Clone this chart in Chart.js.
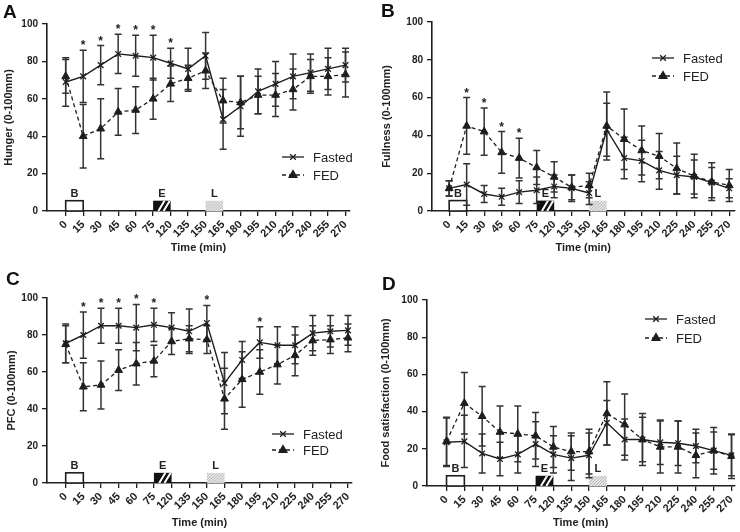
<!DOCTYPE html>
<html>
<head>
<meta charset="utf-8">
<script src="https://cdn.jsdelivr.net/npm/chart.js@4.4.1/dist/chart.umd.min.js"></script>
<style>
  html, body { margin: 0; padding: 0; background: #fff; }
  #wrap { position: relative; width: 740px; height: 532px; overflow: hidden; }
  .panel { position: absolute; width: 370px; height: 266px; }
  .panel canvas { display: block; }
  .letter { position: absolute; font: bold 19px 'Liberation Sans', Arial, sans-serif; color: #111; line-height: 1; }
</style>
</head>
<body>
<div id="wrap">
  <div class="panel" style="left:0;top:0"><canvas id="chartA" width="370" height="266"></canvas></div>
  <div class="panel" style="left:370px;top:0"><canvas id="chartB" width="370" height="266"></canvas></div>
  <div class="panel" style="left:0;top:266px"><canvas id="chartC" width="370" height="266"></canvas></div>
  <div class="panel" style="left:370px;top:266px"><canvas id="chartD" width="370" height="266"></canvas></div>
  <div class="letter" style="left:3px;top:2px">A</div>
  <div class="letter" style="left:381px;top:1px">B</div>
  <div class="letter" style="left:6px;top:269px">C</div>
  <div class="letter" style="left:382px;top:274px">D</div>
</div>
<script>
const timeLabels = ['0', '15', '30', '45', '60', '75', '120', '135', '150', '165', '180', '195', '210', '225', '240', '255', '270'];

const hungerFasted = [69, 72, 78, 84, 83, 82, 79, 76, 83, 49, 56, 64, 68, 72, 74, 76, 78];
const hungerFastedErr = [13, 14, 10.5, 10.5, 11, 12, 8, 11, 12.5, 16, 16, 12, 12, 12, 10, 11, 9];
const hungerFed = [72, 40, 44, 53, 54, 60, 68, 71, 75, 59, 58, 62, 62, 65, 72, 72, 73];
const hungerFedErr = [9, 17, 16, 12.5, 12.5, 11, 9.5, 7, 9.5, 12, 14, 10, 11.5, 11, 9, 10, 12];
const hungerStars = [1, 2, 3, 4, 5, 6];

const fullnessFasted = [12, 14, 9, 7.5, 10, 11, 13, 12, 9.5, 43, 28, 26.5, 21.5, 19, 18, 15, 12];
const fullnessFastedErr = [4, 11, 4.5, 4.5, 6, 7, 6, 7, 6, 14, 11, 11, 10, 10, 9, 8, 5];
const fullnessFed = [12, 45, 42, 31, 28, 23, 18, 12.5, 13.5, 45, 38, 32, 29, 22.5, 18.5, 15.5, 13.5];
const fullnessFedErr = [4, 15, 12.5, 11, 10.5, 9, 8, 6.5, 6.5, 18, 16, 13, 12, 13.5, 11.5, 10, 8.5];
const fullnessStars = [1, 2, 3, 4];

const pfcFasted = [75.5, 80, 85, 85, 84, 85.5, 84, 82, 86.5, 54, 66.5, 76, 74.5, 74.5, 81, 82, 82.5];
const pfcFastedErr = [10.5, 12.5, 9.5, 9.5, 12.5, 9, 8, 12, 9.5, 16.5, 10, 8.5, 10, 10, 9.5, 8.5, 8];
const pfcFed = [75, 52, 53, 61, 64.5, 66, 76.5, 78, 77.5, 45.5, 56, 60, 64, 69, 77, 77.5, 78.5];
const pfcFedErr = [10, 13, 13, 11, 11.5, 8.5, 7, 7, 7.5, 16.5, 15, 12, 10.5, 11, 8, 7.5, 7.5];
const pfcStars = [1, 2, 3, 4, 5, 8, 11];

const satFasted = [23.5, 24, 17.5, 14.5, 17, 22.5, 17, 15, 16.5, 34, 25, 25, 23.5, 23, 21.5, 19, 16.5];
const satFastedErr = [13, 14, 10.5, 9, 10, 12, 10, 12, 12, 12, 11, 12, 12, 12, 9, 10, 11];
const satFed = [24, 44.5, 37.5, 29, 28, 27, 21, 18.5, 18.5, 39, 33, 25, 21, 21, 16.5, 19, 16];
const satFedErr = [13, 16.5, 16, 14, 15, 12.5, 11, 10, 12, 17, 16.5, 14, 14, 14, 12, 12.5, 12];
const satStars = [];

// meal markers: breakfast, exercise, lunch (in time-index units)
const mealLabels = ['B', 'E', 'L'];
const mealStart = [0, 5, 8];
const mealEnd = [1, 6, 9];
const mealHeight = 5.5;

const INK = '#1e1e1e';
const FONT = "'Liberation Sans', Arial, sans-serif";

function drawMarker(ctx, style, x, y) {
  ctx.save();
  ctx.strokeStyle = INK;
  ctx.fillStyle = INK;
  ctx.lineWidth = 1.3;
  ctx.setLineDash([]);
  if (style === 'triangle') {
    Chart.helpers.drawPoint(ctx, { pointStyle: 'triangle', radius: 4.5, rotation: 0, borderWidth: 1 }, x, y);
  } else {
    Chart.helpers.drawPoint(ctx, { pointStyle: 'crossRot', radius: 4, rotation: 0, borderWidth: 1.3 }, x, y);
  }
  ctx.restore();
}

function panelPlugin(cfg) {
  return {
    id: 'panelExtras',
    beforeDatasetsDraw(chart) {
      const { ctx, scales: { x, y } } = chart;
      // meal boxes
      mealLabels.forEach((lab, i) => {
        const x0 = x.getPixelForValue(mealStart[i]);
        const x1 = x.getPixelForValue(mealEnd[i]);
        const y0 = y.getPixelForValue(0);
        const y1 = y.getPixelForValue(mealHeight);
        ctx.save();
        if (lab === 'B') {
          ctx.fillStyle = '#fff';
          ctx.fillRect(x0, y1, x1 - x0, y0 - y1);
          ctx.strokeStyle = INK; ctx.lineWidth = 1.6;
          ctx.strokeRect(x0, y1, x1 - x0, y0 - y1);
        } else if (lab === 'E') {
          ctx.fillStyle = '#111';
          ctx.fillRect(x0, y1, x1 - x0, y0 - y1);
          ctx.beginPath(); ctx.rect(x0, y1, x1 - x0, y0 - y1); ctx.clip();
          ctx.strokeStyle = '#fff'; ctx.lineWidth = 2;
          const w = x1 - x0;
          ctx.beginPath();
          ctx.moveTo(x0 + w * 0.3, y0); ctx.lineTo(x0 + w * 0.65, y1);
          ctx.moveTo(x0 + w * 0.6, y0); ctx.lineTo(x0 + w * 0.95, y1);
          ctx.stroke();
        } else {
          ctx.fillStyle = '#e6e6e6';
          ctx.fillRect(x0, y1, x1 - x0, y0 - y1);
          ctx.beginPath(); ctx.rect(x0, y1, x1 - x0, y0 - y1); ctx.clip();
          ctx.strokeStyle = '#aaa'; ctx.lineWidth = 0.8;
          ctx.beginPath();
          for (let k = -12; k < (x1 - x0) + 12; k += 3) {
            ctx.moveTo(x0 + k, y0); ctx.lineTo(x0 + k + (y0 - y1), y1);
          }
          ctx.stroke();
        }
        ctx.restore();
        ctx.save();
        ctx.fillStyle = '#222';
        ctx.font = 'bold 11px ' + FONT;
        ctx.textAlign = 'center';
        ctx.textBaseline = 'bottom';
        ctx.fillText(lab, (x0 + x1) / 2, y1 - 1);
        ctx.restore();
      });
      // error bars
      ctx.save();
      ctx.strokeStyle = '#333';
      ctx.lineWidth = 1.5;
      chart.data.datasets.forEach((ds, di) => {
        const meta = chart.getDatasetMeta(di);
        meta.data.forEach((pt, i) => {
          const v = ds.data[i].y;
          const e = ds.errors[i];
          const top = y.getPixelForValue(v + e);
          const bot = y.getPixelForValue(v - e);
          ctx.beginPath();
          ctx.moveTo(pt.x, top); ctx.lineTo(pt.x, bot);
          ctx.moveTo(pt.x - 3.5, top); ctx.lineTo(pt.x + 3.5, top);
          ctx.moveTo(pt.x - 3.5, bot); ctx.lineTo(pt.x + 3.5, bot);
          ctx.stroke();
        });
      });
      ctx.restore();
    },
    afterDatasetsDraw(chart) {
      const { ctx, scales: { x, y } } = chart;
      const sets = chart.data.datasets;
      // significance stars
      ctx.save();
      ctx.fillStyle = '#222';
      ctx.font = 'bold 12px ' + FONT;
      ctx.textAlign = 'center';
      ctx.textBaseline = 'alphabetic';
      cfg.stars.forEach(i => {
        const topVal = Math.max(...sets.map(ds => ds.data[i].y + ds.errors[i]));
        ctx.fillText('*', x.getPixelForValue(i), y.getPixelForValue(topVal) - 1);
      });
      ctx.restore();
      // legend
      const L = cfg.legend;
      sets.forEach((ds, di) => {
        const ly = L.y + di * L.gap;
        ctx.save();
        ctx.strokeStyle = INK;
        ctx.lineWidth = 1.3;
        ctx.setLineDash(ds.borderDash || []);
        ctx.beginPath(); ctx.moveTo(L.x, ly); ctx.lineTo(L.x + 22, ly); ctx.stroke();
        ctx.restore();
        drawMarker(ctx, ds.pointStyle, L.x + 11, ly);
        ctx.save();
        ctx.fillStyle = '#222';
        ctx.font = '13px ' + FONT;
        ctx.textBaseline = 'middle';
        ctx.fillText(ds.label, L.x + 31, ly + 1);
        ctx.restore();
      });
    }
  };
}

function makeChart(id, cfg) {
  const W = 370, H = 266;
  const g = cfg.geo;
  const sp = (g.last - g.first) / 16;
  const xmin = -(g.first - g.left) / sp;
  const xmax = 16 + (g.right - g.last) / sp;
  const toPts = arr => arr.map((v, i) => ({ x: i, y: v }));
  const titleFont = { family: FONT, size: 11, weight: 'bold' };

  new Chart(document.getElementById(id), {
    type: 'line',
    data: {
      datasets: [
        {
          label: 'Fasted', data: toPts(cfg.fasted), errors: cfg.fastedErr,
          borderColor: INK, backgroundColor: INK, borderWidth: 1.4,
          pointStyle: 'crossRot', pointRadius: 4, pointBorderWidth: 1.3, tension: 0
        },
        {
          label: 'FED', data: toPts(cfg.fed), errors: cfg.fedErr,
          borderColor: INK, backgroundColor: INK, borderWidth: 1.3, borderDash: [4, 3],
          pointStyle: 'triangle', pointRadius: 4.5, pointBorderWidth: 1, tension: 0
        }
      ]
    },
    options: {
      responsive: false,
      animation: false,
      layout: { padding: { left: 0, top: g.top, right: W - g.right, bottom: 0 } },
      plugins: { legend: { display: false }, tooltip: { enabled: false } },
      scales: {
        x: {
          type: 'linear', min: xmin, max: xmax,
          afterBuildTicks: s => { s.ticks = timeLabels.map((t, i) => ({ value: i })); },
          afterFit: s => { s.height = H - g.bottom; s.paddingLeft = 0; s.paddingRight = 0; },
          ticks: {
            autoSkip: false, minRotation: 45, maxRotation: 45, padding: 2,
            color: '#222', font: { family: FONT, size: 11, weight: 'bold' },
            callback: v => timeLabels[v]
          },
          grid: { display: true, drawOnChartArea: false, drawTicks: true, tickLength: 5, color: INK, lineWidth: 1.3 },
          border: { display: true, color: INK, width: 1.6 },
          title: { display: true, text: 'Time (min)', color: '#222', font: titleFont, padding: { top: 0, bottom: cfg.xTitlePad } }
        },
        y: {
          min: 0, max: 100,
          afterFit: s => { s.width = g.left; s.paddingTop = 0; s.paddingBottom = 0; },
          ticks: { stepSize: 20, padding: 4, color: '#222', font: { family: FONT, size: 10, weight: 'bold' } },
          grid: { display: true, drawOnChartArea: false, drawTicks: true, tickLength: 5, color: INK, lineWidth: 1.3 },
          border: { display: true, color: INK, width: 1.6 },
          title: { display: true, text: cfg.yTitle, color: '#222', font: titleFont, padding: { top: cfg.yTitlePad, bottom: 0 } }
        }
      }
    },
    plugins: [panelPlugin(cfg)]
  });
}

makeChart('chartA', {
  fasted: hungerFasted, fastedErr: hungerFastedErr, fed: hungerFed, fedErr: hungerFedErr,
  stars: hungerStars, yTitle: 'Hunger (0-100mm)', yTitlePad: 2, xTitlePad: 11,
  geo: { left: 47, top: 24, right: 350, bottom: 211, first: 65.7, last: 345.5 },
  legend: { x: 282, y: 157, gap: 18 }
});
makeChart('chartB', {
  fasted: fullnessFasted, fastedErr: fullnessFastedErr, fed: fullnessFed, fedErr: fullnessFedErr,
  stars: fullnessStars, yTitle: 'Fullness (0-100mm)', yTitlePad: 10, xTitlePad: 11,
  geo: { left: 62, top: 22, right: 367, bottom: 211, first: 79.3, last: 361.7 },
  legend: { x: 282, y: 58, gap: 18 }
});
makeChart('chartC', {
  fasted: pfcFasted, fastedErr: pfcFastedErr, fed: pfcFed, fedErr: pfcFedErr,
  stars: pfcStars, yTitle: 'PFC (0-100mm)', yTitlePad: 5, xTitlePad: 2,
  geo: { left: 47, top: 32, right: 352, bottom: 217, first: 65.7, last: 348 },
  legend: { x: 272, y: 168, gap: 16 }
});
makeChart('chartD', {
  fasted: satFasted, fastedErr: satFastedErr, fed: satFed, fedErr: satFedErr,
  stars: satStars, yTitle: 'Food satisfaction (0-100mm)', yTitlePad: 9, xTitlePad: 2,
  geo: { left: 57, top: 34, right: 367, bottom: 220, first: 76.7, last: 364 },
  legend: { x: 275, y: 53, gap: 19 }
});
</script>
</body>
</html>
